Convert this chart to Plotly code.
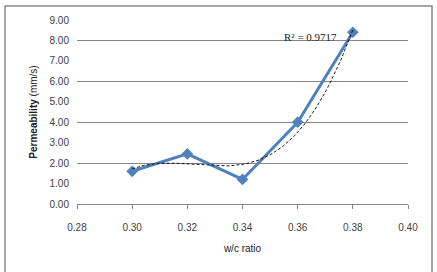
import numpy as np
import plotly.graph_objects as go

wc_ratio = [0.30, 0.32, 0.34, 0.36, 0.38]
permeability = [1.60, 2.45, 1.20, 4.00, 8.40]
x_ticks = [0.28, 0.30, 0.32, 0.34, 0.36, 0.38, 0.40]
y_ticks = [0, 1, 2, 3, 4, 5, 6, 7, 8, 9]
r2_label = "R² = 0.9717"

# polynomial trendline (order 3) fitted to the data
coef = np.polyfit(wc_ratio, permeability, 3)
xt = np.linspace(min(wc_ratio), max(wc_ratio), 100)
yt = np.polyval(coef, xt)

fig = go.Figure()
fig.add_trace(go.Scatter(x=xt, y=yt, mode="lines",
                         line=dict(color="black", width=0.9, dash="3px,2px"),
                         showlegend=False, hoverinfo="skip", yaxis="y2"))
fig.add_trace(go.Scatter(x=wc_ratio, y=permeability, mode="lines+markers",
                         line=dict(color="#4F81BD", width=3),
                         marker=dict(symbol="diamond", size=9, color="#4F81BD"),
                         showlegend=False))

font = "Liberation Sans"
fig.update_layout(
    width=437, height=272,
    margin=dict(l=77, r=29, t=19.5, b=68),
    paper_bgcolor="white", plot_bgcolor="white",
    font=dict(family=font, size=10, color="#404040"),
    xaxis=dict(range=[0.28, 0.40], tickvals=x_ticks,
               ticktext=[f"{v:.2f}" for v in x_ticks],
               showgrid=False, zeroline=False, showline=True,
               linecolor="#868686", linewidth=1,
               ticks="outside", ticklen=4, tickcolor="#868686",
               ticklabelstandoff=10,
               title=dict(text="w/c ratio", font=dict(size=10, color="#202020"), standoff=12)),
    yaxis=dict(range=[0, 9], tickvals=y_ticks,
               ticktext=[f"{v:.2f}" for v in y_ticks],
               showgrid=False, zeroline=False, showline=False,
               ticks="", ticklabelstandoff=7,
               title=dict(text="<b>Permeability</b> (mm/s)", font=dict(size=10, color="#202020"), standoff=10)),
    yaxis2=dict(range=[0, 9], dtick=2, overlaying="y", showticklabels=False,
                showgrid=True, gridcolor="#868686", gridwidth=1, zeroline=False),
    shapes=[dict(type="rect", xref="paper", yref="paper",
                 x0=-0.2175, x1=1.0725, y0=-0.40, y1=1.076,
                 line=dict(color="#8a8a8a", width=1.5), layer="below")],
    annotations=[dict(text=r2_label, x=0.3542, y=8.15, xref="x", yref="y2",
                      xanchor="left", yanchor="middle", showarrow=False,
                      font=dict(family="Liberation Serif", size=11, color="#202020"))],
)
fig.write_html("out.html")
